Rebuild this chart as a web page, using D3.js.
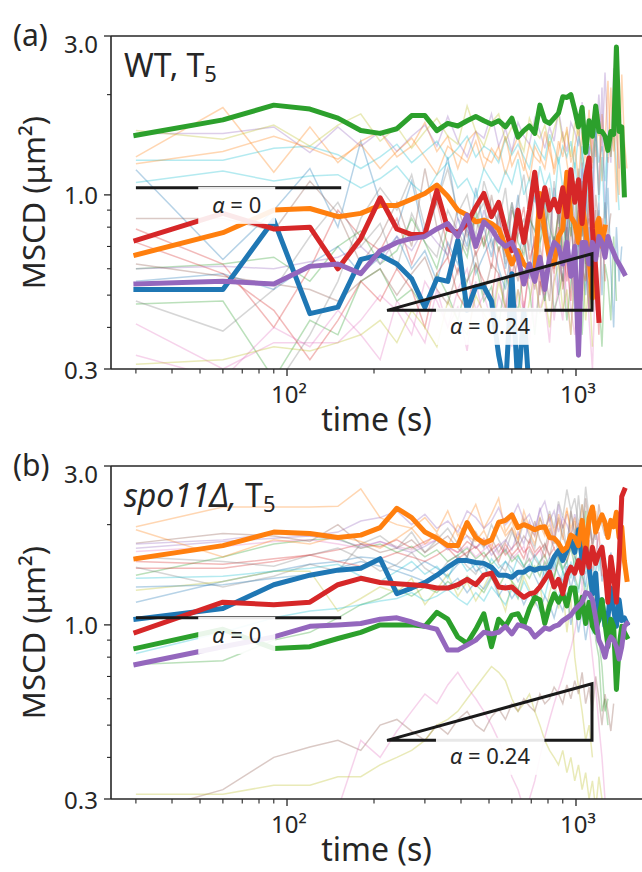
<!DOCTYPE html>
<html>
<head>
<meta charset="utf-8">
<script src="https://cdn.jsdelivr.net/npm/d3@7"></script>
<style>
  body { margin: 0; background: #fff; }
  svg { display: block; }
  text { font-family: "Noto Sans", sans-serif; fill: #262626; }
</style>
</head>
<body>
<div id="chart"></div>
<script>
// sampling times (s)
const times = [30, 60, 90, 120, 150, 180, 210, 240, 270, 300, 330, 360, 390, 420, 450, 480, 510, 540, 570, 600,
    630, 660, 690, 720, 750, 780, 810, 840, 870, 900, 930, 960, 990, 1020, 1050, 1080, 1110, 1140, 1170, 1200,
    1230, 1260, 1290, 1320, 1350, 1380, 1410, 1440, 1470, 1500];

const yMajor = [0.3, 1.0, 3.0];
const yMinor = [0.4, 0.5, 0.6, 0.7, 0.8, 0.9, 2.0];
const xMajor = [100, 1000];
const xMajorLabels = ['10²', '10³'];
const xMinor = [30, 40, 50, 60, 70, 80, 90, 200, 300, 400, 500, 600, 700, 800, 900];

// (a) WT, highlighted trajectories
const wtBlue = [0.52, 0.52, 0.84, 0.44, 0.46, 0.64, 0.66, 0.62, 0.56, 0.46, 0.56, 0.55, 0.73, 0.45, 0.53, 0.53,
    0.48, 0.33, 0.26, 0.58, 0.26, 0.45, 0.25];
const wtOrange = [0.66, 0.77, 0.90, 0.91, 0.86, 0.88, 0.93, 0.93, 0.97, 1.01, 1.07, 0.99, 0.90, 0.87, 0.83, 0.84,
    0.82, 0.79, 0.70, 0.62, 0.68, 0.62, 0.60, 0.58, 1.01, 0.77, 0.64, 0.62, 0.75, 0.79, 1.17, 0.86, 0.82, 0.72,
    0.95, 0.79, 0.64, 0.49, 0.80, 0.85, 0.70, 0.80];
const wtGreen = [1.51, 1.68, 1.86, 1.81, 1.70, 1.56, 1.53, 1.58, 1.73, 1.73, 1.56, 1.64, 1.61, 1.67, 1.72, 1.67,
    1.63, 1.67, 1.60, 1.70, 1.49, 1.56, 1.61, 1.53, 1.86, 1.67, 1.64, 1.70, 1.76, 1.97, 1.96, 2.00, 1.80, 1.60,
    1.83, 1.34, 1.67, 1.50, 1.85, 1.55, 1.55, 1.50, 1.36, 1.55, 1.52, 2.78, 1.55, 1.60, 1.00];
const wtRed = [0.73, 0.88, 0.79, 0.80, 0.60, 0.74, 0.98, 0.79, 0.76, 0.76, 1.03, 0.79, 0.77, 0.82, 0.92, 1.01,
    0.86, 0.95, 0.79, 0.68, 0.90, 0.72, 0.90, 1.17, 0.86, 1.05, 0.90, 0.97, 0.89, 1.05, 0.86, 1.19, 0.95, 1.11,
    0.82, 1.14, 1.29, 0.79, 0.60, 0.42];
const wtPurple = [0.54, 0.55, 0.54, 0.61, 0.62, 0.58, 0.68, 0.72, 0.74, 0.75, 0.79, 0.82, 0.75, 0.87, 0.70, 0.83,
    0.79, 0.73, 0.70, 0.72, 0.65, 0.54, 0.62, 0.55, 0.65, 0.52, 0.65, 0.72, 0.70, 0.62, 0.72, 0.57, 0.70, 0.33,
    0.72, 0.72, 0.62, 0.72, 0.64, 0.75, 0.72, 0.65, 0.75, 0.70, 0.67, 0.64, 0.62, 0.60, 0.58];

// (a) WT, remaining trajectories (faint)
const wtOthers = [
    [1.19, 0.64, 0.90, 1.20, 0.80, 1.45, 0.95, 0.80, 1.10, 0.75, 0.95, 1.30, 0.85, 0.70, 1.05, 0.80, 0.65, 0.90, 0.60, 0.75, 1.00, 0.70, 0.85, 0.55, 0.80, 0.95, 0.65, 0.75, 0.50, 0.85, 0.70, 0.90, 0.55, 0.80, 1.20, 0.60, 0.45, 0.85, 0.70, 0.95, 0.50, 0.75, 1.05, 0.60, 0.40, 0.80, 0.55, 0.70],
    [1.30, 1.83, 1.17, 1.60, 1.25, 1.45, 1.55, 1.30, 1.40, 1.65, 1.35, 1.50, 1.20, 1.45, 1.55, 1.30, 1.25, 1.40, 1.15, 1.35, 1.50, 1.25, 1.10, 1.40, 1.30, 1.20, 1.45, 1.15, 1.35, 1.55, 1.25, 1.05, 1.40, 1.60, 1.20, 1.35, 0.95, 1.50, 1.30, 1.75, 1.10, 1.45, 1.25, 2.10, 1.35, 1.60, 1.00, 2.30, 1.45, 1.20],
    [0.47, 0.48, 0.28, 0.42, 0.38, 0.55, 0.60, 0.48, 0.52, 0.45, 0.58, 0.50, 0.42, 0.55, 0.62, 0.48, 0.53, 0.40, 0.57, 0.50, 0.45, 0.60, 0.52, 0.38, 0.55, 0.48, 0.62, 0.45, 0.50, 0.58, 0.42, 0.55, 0.65, 0.48, 0.38, 0.60, 0.52, 0.45, 0.70, 0.50, 0.35, 0.62, 0.55, 0.42, 0.75, 0.48],
    [0.79, 0.62, 0.40, 0.60, 0.90, 0.75, 0.68, 0.85, 0.62, 0.78, 0.95, 0.70, 0.58, 0.82, 0.66, 0.75, 0.60, 0.88, 0.70, 0.55, 0.78, 0.92, 0.64, 0.72, 0.50, 0.85, 0.68, 0.60, 0.95, 0.70, 0.55, 0.80, 0.65, 1.00, 0.58, 0.75, 0.45, 0.90, 0.62, 0.38, 0.85, 0.55],
    [1.53, 1.53, 1.60, 1.34, 1.60, 1.40, 1.55, 1.35, 1.50, 1.62, 1.40, 1.72, 1.45, 1.30, 1.55, 1.48, 1.75, 1.40, 1.58, 1.35, 1.65, 1.50, 1.42, 1.70, 1.55, 1.38, 1.60, 1.45, 1.80, 1.50, 1.35, 1.65, 1.55, 1.40, 1.90, 1.50, 1.30, 1.70, 1.45, 2.00, 1.35, 2.33, 1.50, 1.25, 2.40, 1.60, 1.20],
    [0.85, 0.85, 0.78, 1.10, 0.88, 0.62, 0.75, 0.95, 0.70, 1.20, 0.80, 0.65, 0.92, 0.75, 0.85, 0.70, 1.00, 0.78, 0.65, 0.90, 0.80, 0.72, 0.95, 0.68, 0.82, 0.75, 1.05, 0.70, 0.88, 0.60, 0.80, 0.95, 0.72, 0.65, 1.10, 0.78, 0.85, 0.62, 1.00, 0.80, 0.70, 0.95, 0.75, 0.88],
    [0.41, 0.30, 0.36, 0.36, 0.36, 0.42, 0.50, 0.45, 0.38, 0.55, 0.48, 0.40, 0.52, 0.60, 0.45, 0.50, 0.42, 0.58, 0.48, 0.35, 0.52, 0.45, 0.62, 0.40, 0.55, 0.48, 0.36, 0.58, 0.50, 0.42, 0.65, 0.45, 0.38, 0.55, 0.48, 0.70, 0.42, 0.30, 0.60, 0.50],
    [0.48, 0.39, 0.52, 0.75, 0.95, 0.70, 0.82, 0.60, 0.88, 0.72, 0.65, 0.90, 0.78, 0.68, 0.85, 0.95, 0.70, 0.80, 0.62, 0.92, 0.75, 0.85, 0.68, 1.05, 0.72, 0.80, 0.90, 0.65, 0.78, 1.00, 0.70, 0.85, 0.60, 0.95, 0.75, 1.10, 0.68, 0.82, 0.55, 0.90],
    [1.56, 1.47, 1.62, 1.40, 1.62, 1.75, 1.45, 1.60, 1.38, 1.55, 1.70, 1.50, 1.42, 1.85, 1.55, 1.40, 1.65, 1.75, 1.45, 1.60, 1.50, 1.35, 1.70, 1.55, 1.48, 1.62, 1.40, 1.58, 1.75, 1.45, 1.55, 1.30, 1.65, 1.50, 1.85, 1.40, 1.60, 1.25, 1.70, 1.50],
    [1.27, 1.27, 1.38, 1.40, 1.32, 1.20, 1.30, 1.42, 1.25, 1.35, 1.45, 1.28, 1.38, 1.50, 1.30, 1.40, 1.35, 1.25, 1.48, 1.32, 1.42, 1.30, 1.20, 1.45, 1.35, 1.28, 1.52, 1.38, 1.25, 1.40, 1.30, 1.45, 1.20, 1.50, 1.35, 1.15, 1.42, 1.30, 1.55, 1.25, 1.40, 1.10, 1.48, 1.30, 1.60, 1.20, 0.90],
    [0.55, 0.58, 0.52, 0.62, 0.70, 0.58, 0.65, 0.75, 0.60, 0.68, 0.55, 0.72, 0.62, 0.80, 0.58, 0.66, 0.74, 0.60, 0.52, 0.70, 0.64, 0.78, 0.56, 0.68, 0.60, 0.48, 0.75, 0.62, 0.70, 0.55, 0.85, 0.60, 0.45, 0.72, 0.65, 0.50, 0.80, 0.58],
    [1.24, 1.35, 1.50, 1.38, 1.28, 1.42, 1.20, 1.35, 1.48, 1.30, 1.15, 1.40, 1.32, 1.25, 1.45, 1.20, 1.38, 1.28, 1.50, 1.22, 1.35, 1.18, 1.42, 1.30, 1.25, 1.55, 1.35, 1.20, 1.45, 1.30, 1.60, 1.25, 1.40, 1.10, 1.55, 1.35, 1.80, 1.20, 1.50, 1.00, 1.75, 1.40, 2.20, 1.30, 1.60, 0.95, 1.90],
    [0.60, 0.62, 0.65, 0.55, 0.70, 0.78, 0.62, 0.68, 0.85, 0.72, 0.60, 0.80, 0.75, 0.65, 0.90, 0.70, 0.82, 0.68, 0.76, 0.95, 0.72, 0.66, 0.85, 0.78, 0.70, 1.00, 0.80, 0.72, 0.88, 0.65, 0.95, 0.75, 1.10, 0.70, 0.85, 0.60, 1.05, 0.78],
    [0.72, 0.58, 0.45, 0.32, 0.42, 0.55, 0.48, 0.60, 0.52, 0.40, 0.58, 0.65, 0.50, 0.45, 0.62, 0.55, 0.48, 0.70, 0.58, 0.52, 0.65, 0.45, 0.60, 0.75, 0.55, 0.50, 0.68, 0.58, 0.80, 0.52, 0.65, 0.48, 0.72, 0.90, 0.60, 0.55, 1.00, 0.65],
    [0.60, 0.61, 0.60, 0.63, 0.65, 0.70, 0.62, 0.75, 0.68, 0.80, 0.72, 0.66, 0.85, 0.78, 0.70, 0.90, 0.75, 0.82, 0.68, 0.95, 0.80, 0.72, 0.88, 1.00, 0.78, 0.85, 0.70, 1.05, 0.82, 0.92, 0.75, 1.15, 0.85, 0.70, 1.25, 0.90, 1.40, 0.80, 1.60, 1.00, 2.10, 0.85, 1.30],
    [0.62, 0.57, 0.54, 0.52, 0.48, 0.55, 0.60, 0.50, 0.58, 0.65, 0.52, 0.47, 0.60, 0.55, 0.68, 0.50, 0.62, 0.58, 0.45, 0.66, 0.55, 0.72, 0.60, 0.52, 0.70, 0.58, 0.48, 0.75, 0.62, 0.55, 0.80, 0.60, 0.68, 0.50, 0.85, 0.62, 0.72, 0.45, 0.90, 0.65],
    [0.33, 0.28, 0.40, 0.35, 0.45, 0.38, 0.32, 0.48, 0.42, 0.36, 0.52, 0.40, 0.46, 0.34, 0.55, 0.42, 0.38, 0.50, 0.44, 0.60, 0.40, 0.48, 0.36, 0.58, 0.45, 0.52, 0.65, 0.42, 0.55, 0.70, 0.48, 0.38, 0.62, 0.85, 0.50, 1.20, 0.60, 1.60, 0.45],
    [0.30, 0.29, 0.26, 0.38, 0.55, 0.85, 1.05, 0.90, 1.15, 0.80, 0.95, 1.20, 0.88, 1.00, 0.75, 1.10, 0.92, 0.82, 1.05, 0.70, 0.95, 1.15, 0.85, 0.78, 1.00, 0.90, 0.72, 1.10, 0.85, 0.95, 0.65, 1.00, 0.80, 1.20, 0.75, 0.90],
    [0.31, 0.32, 0.35, 0.34, 0.36, 0.38, 0.42, 0.36, 0.45, 0.40, 0.35, 0.48, 0.42, 0.38, 0.50, 0.44, 0.40, 0.55, 0.46, 0.42, 0.52, 0.38, 0.48, 0.58, 0.44, 0.50, 0.40, 0.55, 0.62, 0.45, 0.52, 0.38, 0.60, 0.48, 0.70, 0.42, 0.55, 0.35],
    [1.09, 1.18, 1.10, 1.14, 1.15, 1.05, 1.12, 1.22, 1.08, 1.00, 1.15, 1.25, 1.05, 1.12, 0.98, 1.20, 1.10, 1.02, 1.18, 1.08, 1.28, 1.00, 1.12, 0.95, 1.22, 1.06, 1.15, 0.92, 1.30, 1.05, 1.18, 0.88, 1.25, 1.00, 1.40, 0.85, 1.20, 1.05, 1.60, 0.95, 1.30, 0.80, 1.50]
];

// (b) spo11Δ, highlighted trajectories
const spBlue = [1.04, 1.12, 1.32, 1.41, 1.46, 1.48, 1.58, 1.24, 1.29, 1.34, 1.41, 1.49, 1.56, 1.56, 1.54, 1.53,
    1.49, 1.41, 1.41, 1.39, 1.44, 1.44, 1.48, 1.46, 1.48, 1.48, 1.49, 1.60, 1.67, 1.56, 1.67, 1.80, 1.65, 1.93,
    1.56, 1.71, 1.49, 1.24, 1.43, 1.03, 1.19, 0.99, 1.05, 1.29, 1.11, 0.99, 1.19, 1.03, 1.05, 1.01];
const spOrange = [1.58, 1.73, 1.90, 1.88, 1.83, 1.86, 1.96, 2.24, 2.10, 1.90, 1.82, 1.73, 1.73, 2.03, 1.83, 1.76,
    1.80, 2.03, 2.06, 2.14, 1.96, 2.00, 1.97, 1.93, 1.96, 1.97, 1.83, 1.82, 1.76, 1.67, 1.71, 1.86, 1.83, 1.73,
    2.06, 1.65, 2.09, 2.26, 1.90, 2.03, 2.14, 2.03, 1.83, 2.06, 1.97, 2.18, 1.83, 1.97, 1.56, 1.37];
const spGreen = [0.85, 0.97, 0.85, 0.86, 0.91, 0.95, 1.00, 1.00, 1.00, 0.99, 1.09, 1.04, 0.92, 0.88, 0.97, 1.08,
    0.86, 1.04, 0.99, 1.07, 1.08, 1.00, 1.12, 1.21, 1.19, 1.01, 1.14, 1.24, 1.17, 1.24, 1.14, 1.29, 1.29, 1.05,
    1.21, 1.01, 1.17, 0.99, 0.95, 1.05, 1.19, 1.01, 0.86, 1.04, 0.99, 0.64, 0.86, 0.99, 0.95, 0.92];
const spRed = [0.95, 1.17, 1.15, 1.17, 1.32, 1.38, 1.34, 1.33, 1.32, 1.31, 1.29, 1.29, 1.32, 1.37, 1.32, 1.41,
    1.43, 1.30, 1.29, 1.30, 1.25, 1.21, 1.24, 1.25, 1.30, 1.37, 1.44, 1.30, 1.37, 1.24, 1.41, 1.49, 1.43, 1.56,
    1.43, 1.70, 1.49, 1.71, 1.53, 1.64, 1.71, 1.46, 1.17, 1.60, 1.39, 1.17, 1.56, 2.43, 2.54];
const spPurple = [0.76, 0.86, 0.92, 0.99, 1.00, 1.01, 1.04, 1.05, 1.02, 0.99, 0.97, 0.84, 0.84, 0.87, 0.90, 0.95,
    0.94, 0.95, 0.99, 0.94, 1.00, 0.99, 0.97, 0.92, 0.95, 0.98, 0.97, 0.99, 1.00, 1.03, 1.05, 1.07, 1.11, 1.14,
    1.17, 1.25, 1.24, 1.19, 1.05, 0.90, 0.86, 0.80, 0.88, 0.92, 0.90, 0.86, 0.79, 0.86, 0.99, 1.01];

// (b) spo11Δ, remaining trajectories (faint)
const spOthers = [
    [1.17, 1.35, 1.45, 1.52, 1.55, 1.60, 1.58, 1.50, 1.45, 1.55, 1.48, 1.40, 1.52, 1.60, 1.45, 1.50, 1.38, 1.42, 1.55, 1.48, 1.35, 1.45, 1.52, 1.40, 1.30, 1.48, 1.38, 1.55, 1.42, 1.35, 1.50, 1.28, 1.45, 1.60, 1.40, 1.30, 1.55, 1.25, 1.45, 1.70, 1.35, 1.50, 1.20, 1.65, 1.40, 1.05],
    [1.97, 2.26, 2.26, 2.26, 2.27, 2.56, 2.10, 2.00, 1.95, 2.10, 1.90, 2.20, 1.85, 2.05, 2.30, 1.95, 2.15, 2.40, 1.90, 2.05, 1.80, 2.20, 1.95, 1.85, 2.10, 1.90, 2.00, 1.80, 2.15, 1.95, 2.25, 1.85, 2.05, 1.75, 2.30, 1.90, 2.10, 1.70, 2.20, 1.95],
    [1.41, 1.60, 1.75, 1.80, 1.82, 1.70, 1.75, 1.65, 1.72, 1.60, 1.68, 1.55, 1.62, 1.70, 1.58, 1.65, 1.52, 1.60, 1.68, 1.55, 1.62, 1.50, 1.58, 1.45, 1.55, 1.62, 1.48, 1.40, 1.55, 1.45, 1.35, 1.50, 1.40, 1.28, 1.45, 1.20, 1.38, 1.10, 1.25, 0.90, 0.75, 0.55, 0.60],
    [1.48, 1.48, 1.55, 1.62, 1.68, 1.75, 1.72, 1.80, 1.70, 1.78, 1.85, 1.72, 1.65, 1.78, 1.70, 1.82, 1.68, 1.75, 1.62, 1.70, 1.78, 1.65, 1.72, 1.60, 1.68, 1.75, 1.62, 1.70, 1.58, 1.66, 1.55, 1.72, 1.60, 1.50, 1.68, 1.55, 1.80, 1.45, 1.62, 1.90, 1.40],
    [1.70, 1.78, 1.82, 1.85, 1.90, 2.05, 2.10, 2.20, 2.00, 2.15, 1.95, 2.05, 1.90, 2.20, 2.10, 1.95, 2.05, 2.25, 2.00, 2.10, 2.30, 2.05, 2.15, 1.95, 2.20, 2.35, 2.05, 2.20, 1.90, 2.10, 2.00, 1.85, 2.15, 1.95, 2.05, 1.80, 2.00, 1.75, 1.95, 1.60],
    [1.76, 1.88, 1.85, 1.78, 2.00, 1.75, 1.65, 1.70, 1.80, 1.65, 1.75, 1.85, 1.70, 1.60, 1.90, 1.72, 1.82, 1.65, 1.78, 1.95, 1.70, 1.85, 1.75, 2.05, 1.80, 1.68, 1.95, 1.75, 2.10, 1.85, 1.70, 2.20, 1.90, 2.00, 1.75, 2.40, 1.95, 2.10, 1.80, 2.30, 2.00, 1.85],
    [1.66, 1.72, 1.78, 1.80, 1.75, 1.70, 1.78, 1.72, 1.68, 1.75, 1.80, 1.70, 1.65, 1.72, 1.60, 1.68, 1.75, 1.62, 1.70, 1.58, 1.65, 1.72, 1.55, 1.62, 1.68, 1.50, 1.60, 1.45, 1.55, 1.65, 1.40, 1.50, 1.35, 1.58, 1.30, 1.45],
    [1.49, 1.30, 1.40, 1.52, 1.45, 1.75, 1.85, 1.70, 1.90, 1.65, 1.80, 1.95, 1.75, 1.60, 1.85, 1.70, 2.00, 1.80, 1.65, 1.90, 1.75, 2.05, 1.85, 1.70, 2.10, 1.90, 2.20, 1.95, 2.35, 2.10, 2.55, 2.20, 2.40, 2.00, 2.30, 1.85, 2.10, 1.70, 1.95],
    [1.27, 1.35, 1.45, 1.45, 1.10, 1.20, 1.30, 1.25, 1.38, 1.15, 1.28, 1.42, 1.22, 1.35, 1.18, 1.30, 1.45, 1.25, 1.10, 1.35, 1.20, 1.40, 1.28, 1.15, 1.32, 1.05, 1.25, 1.38, 1.12, 1.30, 0.95, 1.20, 0.80, 0.65, 0.55, 0.45, 0.50, 0.40],
    [1.38, 1.40, 1.45, 1.48, 1.52, 1.40, 1.35, 1.45, 1.55, 1.42, 1.50, 1.38, 1.60, 1.45, 1.52, 1.40, 1.58, 1.48, 1.55, 1.42, 1.60, 1.50, 1.45, 1.62, 1.52, 1.40, 1.58, 1.48, 1.65, 1.45, 1.55, 1.38, 1.62, 1.50, 1.70, 1.42, 1.58, 1.30, 1.65, 1.45, 1.75],
    [1.30, 1.32, 1.38, 1.42, 1.48, 1.55, 1.50, 1.45, 1.40, 1.35, 1.42, 1.30, 1.38, 1.25, 1.35, 1.28, 1.40, 1.22, 1.32, 1.20, 1.28, 1.15, 1.25, 1.18, 1.10, 1.22, 1.15, 1.05, 1.18, 1.10, 1.25, 1.00, 1.15, 0.95, 1.10, 0.90, 1.05],
    [1.93, 1.60, 1.80, 1.75, 1.85, 1.78, 1.70, 1.82, 1.95, 1.75, 1.88, 1.72, 2.00, 1.85, 1.78, 1.92, 1.70, 2.05, 1.85, 1.95, 1.80, 2.10, 1.90, 1.75, 2.00, 1.85, 2.15, 1.90, 2.05, 1.80, 2.20, 1.95, 2.10, 1.75, 2.00],
    [0.76, 0.78, 0.90, 0.95, 1.05, 1.15, 1.20, 1.28, 1.22, 1.30, 1.25, 1.35, 1.28, 1.40, 1.32, 1.25, 1.38, 1.30, 1.42, 1.35, 1.28, 1.45, 1.38, 1.50, 1.40, 1.55, 1.45, 1.38, 1.60, 1.48, 1.55, 1.70, 1.50, 1.80, 1.45, 2.20, 1.60, 1.30, 0.90, 0.80, 0.55, 0.60, 0.50],
    [1.55, 1.52, 1.58, 1.62, 1.55, 1.50, 1.58, 1.65, 1.60, 1.55, 1.62, 1.70, 1.58, 1.65, 1.72, 1.60, 1.68, 1.55, 1.75, 1.62, 1.70, 1.58, 1.80, 1.65, 1.72, 1.60, 1.85, 1.70],
    [1.75, 1.80, 1.88, 1.85, 1.80, 1.72, 1.78, 1.70, 1.65, 1.72, 1.80, 1.68, 1.75, 1.85, 1.70, 1.78, 1.62, 1.72, 1.80, 1.68, 1.90, 1.75, 2.05, 1.85, 2.25, 1.95, 2.10, 1.80, 2.30, 1.95, 2.15],
    [0.27, 0.32, 0.40, 0.43, 0.45, 0.42, 0.50, 0.52, 0.48, 0.45, 0.50, 0.47, 0.52, 0.55, 0.50, 0.48, 0.53, 0.56, 0.52, 0.58, 0.55, 0.60, 0.57, 0.55, 0.62, 0.58, 0.60, 0.65, 0.62, 0.58, 0.66, 0.60, 0.68, 0.62, 0.72, 0.58, 0.65, 0.55, 0.70, 0.60, 0.50, 0.62, 0.55, 0.48, 0.58],
    [0.22, 0.24, 0.26, 0.27, 0.28, 0.45, 0.40, 0.48, 0.55, 0.62, 0.58, 0.66, 0.72, 0.65, 0.60, 0.55, 0.50, 0.45, 0.40, 0.35, 0.32, 0.28, 0.30, 0.34, 0.40, 0.46, 0.52, 0.58, 0.64, 0.70, 0.78, 0.85, 0.95, 1.10, 1.30, 1.20, 1.00, 0.80, 0.65, 0.50, 0.40, 0.30],
    [1.60, 1.55, 1.50, 1.62, 1.70, 1.58, 1.45, 1.52, 1.65, 1.48, 1.40, 1.55, 1.62, 1.50, 1.42, 1.58, 1.70, 1.52, 1.45, 1.62, 1.55, 1.48, 1.68, 1.58, 1.50, 1.75, 1.60, 1.85, 1.65, 2.00, 1.70, 2.20, 1.80, 2.45, 1.90, 2.60, 2.10, 1.80],
    [0.31, 0.31, 0.33, 0.33, 0.35, 0.35, 0.38, 0.40, 0.42, 0.45, 0.50, 0.52, 0.55, 0.60, 0.65, 0.70, 0.75, 0.72, 0.68, 0.60, 0.55, 0.58, 0.62, 0.55, 0.50, 0.45, 0.42, 0.40, 0.38, 0.42, 0.36, 0.40, 0.34, 0.38, 0.32, 0.36, 0.30, 0.34, 0.28, 0.35, 0.30, 0.26],
    [0.82, 0.95, 1.05, 1.10, 1.12, 1.15, 1.18, 1.20, 1.25, 1.18, 1.22, 1.28, 1.20, 1.15, 1.25, 1.18, 1.30, 1.22, 1.15, 1.28, 1.20, 1.35, 1.25, 1.18, 1.30, 1.22, 1.40, 1.28, 1.20, 1.45, 1.30, 1.55, 1.35, 1.25, 1.60, 1.30, 1.10, 0.95, 1.00]
];

// guide lines: flat (alpha = 0) and power-law slope (alpha = 0.24)
const flatGuide = { t0: 30, t1: 154, v: 1.05, labelT: 67, labelV: 0.93 };
const slopeGuide = { t0: 222, t1: 1136, v0: 0.45, alpha: 0.24, labelT: 504, labelV: 0.403 };

const tab10 = d3.schemeCategory10;
const W = 642, H = 872;
const left = 111, plotW = 531, plotH = 333;
const ink = '#262626';

const svg = d3.select('#chart').append('svg').attr('width', W).attr('height', H);

const x = d3.scaleLog().domain([24.6, 1692]).range([0, plotW]);
const y = d3.scaleLog().domain([0.3, 3.0]).range([plotH, 0]);

function drawPanel(top, id, tag, title, bold, others) {
    const g = svg.append('g').attr('transform', `translate(${left},${top})`);

    g.append('clipPath').attr('id', 'clip-' + id)
        .append('rect').attr('width', plotW).attr('height', plotH);
    const plot = g.append('g').attr('clip-path', `url(#clip-${id})`);

    const line = d3.line()
        .x((d, i) => x(times[i]))
        .y(d => y(d));

    plot.selectAll('path.thin')
        .data(others)
        .join('path')
        .attr('class', 'thin')
        .attr('fill', 'none')
        .attr('stroke', (d, i) => tab10[i % 10])
        .attr('stroke-width', 1.5)
        .attr('stroke-opacity', 0.32)
        .attr('d', line);

    plot.selectAll('path.bold')
        .data(bold)
        .join('path')
        .attr('class', 'bold')
        .attr('fill', 'none')
        .attr('stroke', (d, i) => tab10[i])
        .attr('stroke-width', 5)
        .attr('stroke-linejoin', 'round')
        .attr('stroke-linecap', 'square')
        .attr('d', line);

    // guides
    plot.append('line')
        .attr('x1', x(flatGuide.t0)).attr('x2', x(flatGuide.t1))
        .attr('y1', y(flatGuide.v)).attr('y2', y(flatGuide.v))
        .attr('stroke', '#1a1a1a').attr('stroke-width', 3);

    const v1 = slopeGuide.v0 * Math.pow(slopeGuide.t1 / slopeGuide.t0, slopeGuide.alpha);
    const tri = d3.path();
    tri.moveTo(x(slopeGuide.t0), y(slopeGuide.v0));
    tri.lineTo(x(slopeGuide.t1), y(slopeGuide.v0));
    tri.lineTo(x(slopeGuide.t1), y(v1));
    tri.closePath();
    plot.append('path')
        .attr('d', tri.toString())
        .attr('fill', 'none')
        .attr('stroke', '#1a1a1a')
        .attr('stroke-width', 3)
        .attr('stroke-linejoin', 'miter');

    const addLabel = (t, v, value) => {
        const lg = g.append('g');
        const box = lg.append('rect');
        const txt = lg.append('text')
            .attr('x', x(t)).attr('y', y(v))
            .attr('dy', '0.33em')
            .attr('text-anchor', 'middle')
            .style('font-size', '22px');
        txt.append('tspan').style('font-style', 'italic').text('α');
        txt.append('tspan').text(' = ' + value);
        const bb = txt.node().getBBox();
        box.attr('x', bb.x - 14).attr('width', bb.width + 28)
            .attr('y', y(v) - 18.5).attr('height', 37)
            .attr('fill', '#fff').attr('fill-opacity', 0.9);
    };
    addLabel(flatGuide.labelT, flatGuide.labelV, '0');
    addLabel(slopeGuide.labelT, slopeGuide.labelV, '0.24');

    // spines
    g.append('line').attr('x1', 0).attr('x2', 0).attr('y1', 0).attr('y2', plotH)
        .attr('stroke', ink).attr('stroke-width', 1.6);
    g.append('line').attr('x1', 0).attr('x2', plotW).attr('y1', 0).attr('y2', 0)
        .attr('stroke', ink).attr('stroke-width', 1.6);
    g.append('line').attr('x1', 0).attr('x2', plotW).attr('y1', plotH).attr('y2', plotH)
        .attr('stroke', ink).attr('stroke-width', 1.6);

    // y ticks
    g.selectAll('line.ymaj').data(yMajor).join('line')
        .attr('x1', -7).attr('x2', 0)
        .attr('y1', d => y(d)).attr('y2', d => y(d))
        .attr('stroke', ink).attr('stroke-width', 1.3);
    g.selectAll('line.ymin').data(yMinor).join('line')
        .attr('x1', -4).attr('x2', 0)
        .attr('y1', d => y(d)).attr('y2', d => y(d))
        .attr('stroke', ink).attr('stroke-width', 1.1);
    g.selectAll('text.ylab').data(yMajor).join('text')
        .attr('class', 'ylab')
        .attr('x', -13)
        .attr('y', d => y(d))
        .attr('dy', d => d === 3.0 ? '0.72em' : '0.4em')
        .attr('text-anchor', 'end')
        .style('font-size', '24px')
        .text(d => d3.format('.1f')(d));

    // x ticks
    g.selectAll('line.xmaj').data(xMajor).join('line')
        .attr('x1', d => x(d)).attr('x2', d => x(d))
        .attr('y1', plotH).attr('y2', plotH + 7)
        .attr('stroke', ink).attr('stroke-width', 1.3);
    g.selectAll('line.xmin').data(xMinor).join('line')
        .attr('x1', d => x(d)).attr('x2', d => x(d))
        .attr('y1', plotH).attr('y2', plotH + 4.5)
        .attr('stroke', ink).attr('stroke-width', 1.1);
    g.selectAll('text.xlab').data(xMajor).join('text')
        .attr('class', 'xlab')
        .attr('x', d => x(d) + 2)
        .attr('y', plotH + 34)
        .attr('text-anchor', 'middle')
        .style('font-size', '24px')
        .text((d, i) => xMajorLabels[i]);

    // axis titles
    g.append('text')
        .attr('x', plotW / 2)
        .attr('y', plotH + 62)
        .attr('text-anchor', 'middle')
        .style('font-size', '32px')
        .text('time (s)');
    g.append('text')
        .attr('transform', `translate(${45 - left},${plotH / 2}) rotate(-90)`)
        .attr('text-anchor', 'middle')
        .style('font-size', '31px')
        .text('MSCD (μm²)');

    // panel tag and title
    g.append('text')
        .attr('x', 13 - left)
        .attr('y', 10)
        .style('font-size', '30px')
        .text(tag);

    const tt = g.append('text')
        .attr('x', 13)
        .attr('y', 41)
        .style('font-size', '32px');
    title(tt);
}

drawPanel(36, 'a', '(a)', t => {
    t.append('tspan').text('WT, T');
    t.append('tspan').attr('dy', '0.22em').style('font-size', '22px').text('5');
}, [wtBlue, wtOrange, wtGreen, wtRed, wtPurple], wtOthers);

drawPanel(466, 'b', '(b)', t => {
    t.append('tspan').style('font-style', 'italic').text('spo11Δ,');
    t.append('tspan').text(' T');
    t.append('tspan').attr('dy', '0.22em').style('font-size', '22px').text('5');
}, [spBlue, spOrange, spGreen, spRed, spPurple], spOthers);
</script>
</body>
</html>
